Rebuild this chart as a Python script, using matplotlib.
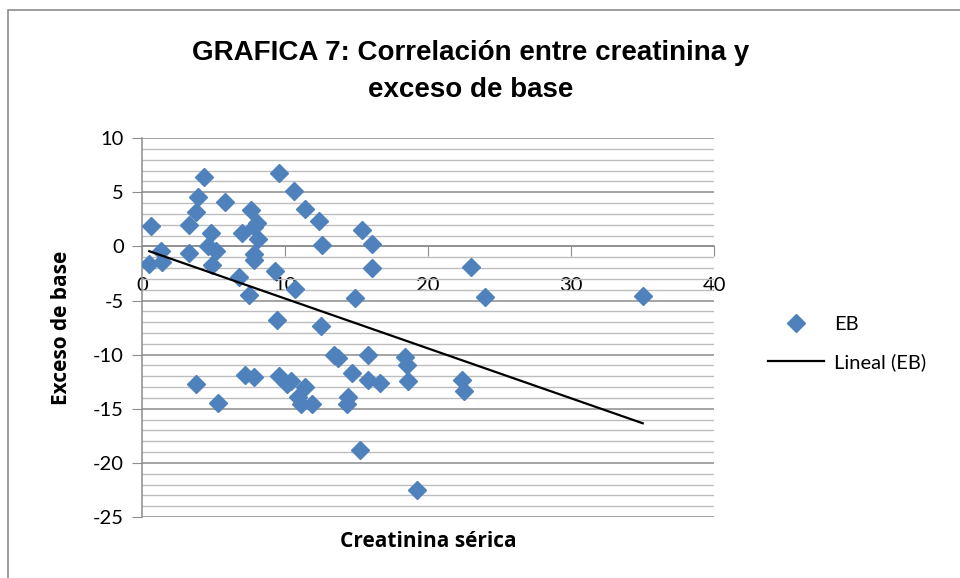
import numpy as np
import matplotlib
matplotlib.use("Agg")
import matplotlib.pyplot as plt
from matplotlib.ticker import MultipleLocator
from matplotlib.patches import Rectangle

plt.rcParams["axes.unicode_minus"] = False

# Creatinina sérica (x) y exceso de base (y)
creatinina = [0.6, 0.5, 1.3, 1.4, 3.3, 3.8, 3.9, 4.3, 3.3, 4.6, 4.8, 5.2, 4.9,
              5.8, 7.0, 7.6, 7.8, 8.0, 8.1, 7.8, 7.8, 6.8, 7.5, 9.6, 10.6, 11.4,
              12.4, 12.6, 9.3, 10.7, 9.4, 12.5, 15.4, 16.1, 16.1, 14.9, 23.0,
              24.0, 35.0, 22.4, 22.5, 3.8, 5.3, 7.2, 7.8, 9.6, 10.1, 10.4, 11.4,
              10.9, 11.1, 11.9, 13.4, 13.7, 15.8, 14.7, 15.8, 16.6, 18.4, 18.5,
              18.6, 14.4, 14.3, 15.2, 19.2]
exceso_base = [1.9, -1.6, -0.4, -1.4, 2.0, 3.2, 4.6, 6.4, -0.6, 0.0, 1.2, -0.4,
               -1.7, 4.1, 1.2, 3.4, 1.8, 2.2, 0.7, -0.7, -1.3, -2.8, -4.5, 6.8,
               5.1, 3.5, 2.3, 0.1, -2.3, -3.9, -6.8, -7.4, 1.5, 0.2, -2.0, -4.8,
               -1.9, -4.7, -4.6, -12.3, -13.4, -12.7, -14.5, -11.9, -12.1, -12.0,
               -12.7, -12.4, -13.0, -13.9, -14.6, -14.6, -10.0, -10.3, -10.0,
               -11.7, -12.3, -12.6, -10.2, -11.0, -12.4, -13.9, -14.6, -18.8,
               -22.5]

x = np.array(creatinina)
y = np.array(exceso_base)

# recta de tendencia lineal
coef = np.polyfit(x, y, 1)
xl = np.array([x.min(), x.max()])
yl = np.polyval(coef, xl)

tick_font = ["Lato", "DejaVu Sans"]
label_font = ["Open Sans", "DejaVu Sans"]

fig = plt.figure(figsize=(9.6, 5.78), dpi=100)
ax = fig.add_axes([0.148, 0.1055, 0.596, 0.6555])

ax.plot(x, y, linestyle="none", marker="D", markersize=9.5,
        color="#4F81BD", label="EB", zorder=3)
ax.plot(xl, yl, color="black", linewidth=1.6, label="Lineal (EB)", zorder=4)

ax.set_xlim(0, 40)
ax.set_ylim(-25, 10)
ax.xaxis.set_major_locator(MultipleLocator(10))
ax.yaxis.set_major_locator(MultipleLocator(5))
ax.yaxis.set_minor_locator(MultipleLocator(1))

ax.grid(True, which="major", axis="y", color="#8c8c8c", linewidth=1.1, zorder=0)
ax.grid(True, which="minor", axis="y", color="#bdbdbd", linewidth=1.0, zorder=0)
ax.set_axisbelow(True)

ax.spines["right"].set_visible(False)
ax.spines["top"].set_visible(False)
ax.spines["bottom"].set_position(("data", 0))
ax.spines["bottom"].set_color("#8c8c8c")
ax.spines["left"].set_color("#8c8c8c")
ax.spines["bottom"].set_linewidth(1.1)
ax.spines["left"].set_linewidth(1.1)

ax.tick_params(axis="x", which="major", direction="out", length=7,
               color="#8c8c8c", pad=15, labelsize=14.5)
ax.tick_params(axis="y", which="major", direction="out", length=7,
               color="#8c8c8c", pad=6, labelsize=14.5)
ax.tick_params(axis="y", which="minor", length=0)
for lab in ax.get_xticklabels() + ax.get_yticklabels():
    lab.set_family(tick_font)

ax.set_xlabel("Creatinina sérica", fontsize=15, fontweight="bold", family=label_font)
ax.xaxis.set_label_coords(0.5, -0.038)
ax.set_ylabel("Exceso de base", fontsize=15, fontweight="bold", family=label_font)
ax.yaxis.set_label_coords(-0.122, 0.5)

fig.text(0.49, 0.877, "GRAFICA 7: Correlación entre creatinina y\nexceso de base",
         ha="center", va="center", fontsize=20, fontweight="bold",
         family=["Liberation Sans", "DejaVu Sans"], linespacing=1.55)

leg = fig.legend(loc="center left", bbox_to_anchor=(0.781, 0.405), frameon=False,
                 prop={"family": tick_font, "size": 14.5}, handlelength=2.8,
                 labelspacing=1.0, handletextpad=0.5)

# marco exterior del gráfico
fig.patches.append(Rectangle((7.5 / 960, -0.05), 1.2, 1.0 - 9.5 / 578 + 0.05,
                             transform=fig.transFigure, fill=False,
                             edgecolor="#8c8c8c", linewidth=1.2))

fig.savefig("out.png", dpi=100)
